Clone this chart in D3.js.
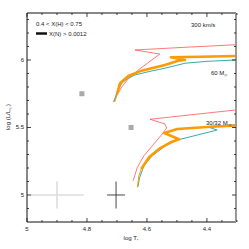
<!DOCTYPE html>
<html lang="en">
<head>
  <meta charset="UTF-8">
  <title>hrd</title>
  <script src="https://cdn.jsdelivr.net/npm/d3@7"></script>
  <style>
    body { margin: 0; background: #fff; }
    text { font-family: "Liberation Sans", Arial, sans-serif; font-size: 6px; fill: #222; }
  </style>
</head>
<body>
  <svg width="249" height="249"></svg>
  <script>
    // tracks as [log Teff, log L]
    var red60 = [[4.712, 5.69], [4.697, 5.75], [4.684, 5.80], [4.663, 5.859], [4.629, 5.926], [4.557, 6.044],
      [4.64, 6.074], [4.473, 6.094], [4.303, 6.113]]
    var teal60 = [[4.71, 5.69], [4.70, 5.763], [4.684, 5.827], [4.665, 5.862], [4.64, 5.889], [4.59, 5.916],
      [4.54, 5.939], [4.473, 5.976], [4.40, 5.99], [4.303, 6.0]]
    var orange60Thin = [[4.707, 5.69], [4.699, 5.753]]
    var orange60Thick = [[4.699, 5.753], [4.69, 5.827], [4.662, 5.881], [4.618, 5.921], [4.54, 5.963],
      [4.496, 5.995], [4.473, 6.0], [4.52, 6.02], [4.423, 6.024], [4.303, 6.03]]

    var red30 = [[4.646, 5.106], [4.632, 5.205], [4.61, 5.291], [4.582, 5.365], [4.554, 5.439], [4.534, 5.496],
      [4.54, 5.526], [4.59, 5.561], [4.303, 5.63]]
    var teal30 = [[4.63, 5.061], [4.625, 5.126], [4.61, 5.217], [4.582, 5.291], [4.538, 5.365], [4.499, 5.407],
      [4.366, 5.481], [4.40, 5.507], [4.303, 5.52]]
    var orange30Thin = [[4.632, 5.057], [4.627, 5.141], [4.619, 5.193]]
    var orange30Thick = [[4.619, 5.193], [4.593, 5.279], [4.56, 5.341], [4.521, 5.39], [4.493, 5.413],
      [4.542, 5.459], [4.499, 5.489], [4.399, 5.504], [4.303, 5.515]]

    // observed stars and error bars
    var stars = [[4.817, 5.75], [4.653, 5.5]]
    var errLight = { t: 4.9, l: 5.0, dt: 0.089, dl: 0.1 }
    var errDark = { t: 4.703, l: 5.0, dt: 0.03, dl: 0.1 }

    var xMajor = [5, 4.8, 4.6, 4.4]
    var yMajor = [5, 5.5, 6]
    var xLabels = ['5', '4.8', '4.6', '4.4']
    var yLabels = ['5', '5.5', '6']

    var svg = d3.select('svg')
    var x = d3.scaleLinear().domain([5, 4.303]).range([27, 236])
    var y = d3.scaleLinear().domain([4.8, 6.348]).range([222, 13])
    var line = d3.line().x(d => x(d[0])).y(d => y(d[1]))

    var plot = svg.append('g')
    plot.append('clipPath').attr('id', 'clip').append('rect')
      .attr('x', 27).attr('y', 13).attr('width', 209).attr('height', 209)
    var inner = plot.append('g').attr('clip-path', 'url(#clip)')

    // error crosses
    function cross(e, color, w) {
      inner.append('line').attr('x1', x(e.t - e.dt)).attr('x2', x(e.t + e.dt))
        .attr('y1', y(e.l)).attr('y2', y(e.l)).attr('stroke', color).attr('stroke-width', w)
      inner.append('line').attr('x1', x(e.t)).attr('x2', x(e.t))
        .attr('y1', y(e.l - e.dl)).attr('y2', y(e.l + e.dl)).attr('stroke', color).attr('stroke-width', w)
    }
    cross(errLight, '#dcdcdc', 1.6)
    cross(errDark, '#333', 0.9)

    inner.selectAll('.star').data(stars).enter().append('rect')
      .attr('x', d => x(d[0]) - 2.5).attr('y', d => y(d[1]) - 2.5)
      .attr('width', 5).attr('height', 5).attr('fill', '#aaa')

    var tracks = [
      [red60, '#ff5555', 0.8], [red30, '#ff5555', 0.8],
      [teal60, '#3aaaa5', 1], [teal30, '#3aaaa5', 1],
      [orange60Thin, '#ff9a00', 1], [orange30Thin, '#ff9a00', 1],
      [orange60Thick, '#ff9a00', 2.6], [orange30Thick, '#ff9a00', 2.6]
    ]
    tracks.forEach(t => {
      inner.append('path').attr('d', line(t[0])).attr('fill', 'none')
        .attr('stroke', t[1]).attr('stroke-width', t[2]).attr('stroke-linejoin', 'round')
    })

    // frame
    svg.append('path').attr('d', 'M236,13H27V222H236').attr('fill', 'none').attr('stroke', '#111').attr('stroke-width', 1)
    svg.append('line').attr('x1', 236).attr('x2', 236).attr('y1', 13).attr('y2', 222)
      .attr('stroke', '#999').attr('stroke-width', 2)

    // ticks on all sides
    var xMinor = d3.range(5, 4.3, -0.05).filter(v => !xMajor.some(m => Math.abs(m - v) < 1e-6))
    var yMinor = d3.range(4.9, 6.35, 0.1).filter(v => !yMajor.some(m => Math.abs(m - v) < 1e-6))
    var tk = svg.append('g').attr('stroke', '#111').attr('stroke-width', 0.8)
    function xt(v, len) {
      tk.append('line').attr('x1', x(v)).attr('x2', x(v)).attr('y1', 222).attr('y2', 222 - len)
      tk.append('line').attr('x1', x(v)).attr('x2', x(v)).attr('y1', 13).attr('y2', 13 + len)
    }
    function yt(v, len) {
      tk.append('line').attr('y1', y(v)).attr('y2', y(v)).attr('x1', 27).attr('x2', 27 + len)
      tk.append('line').attr('y1', y(v)).attr('y2', y(v)).attr('x1', 236).attr('x2', 236 - len)
    }
    xMajor.forEach(v => xt(v, 4))
    xMinor.forEach(v => xt(v, 2))
    yMajor.forEach(v => yt(v, 4))
    yMinor.forEach(v => yt(v, 2))

    svg.selectAll('.xl').data(xMajor).enter().append('text')
      .attr('x', d => x(d)).attr('y', 231).attr('text-anchor', 'middle').text((d, i) => xLabels[i])
    svg.selectAll('.yl').data(yMajor).enter().append('text')
      .attr('x', 24).attr('y', d => y(d) + 2).attr('text-anchor', 'end').text((d, i) => yLabels[i])

    var xlab = svg.append('text').attr('x', 131).attr('y', 240).attr('text-anchor', 'middle')
    xlab.append('tspan').text('log T')
    xlab.append('tspan').attr('dy', 1.5).attr('font-size', 4).text('*')

    var ylab = svg.append('text').attr('transform', 'translate(10,117) rotate(-90)').attr('text-anchor', 'middle')
    ylab.append('tspan').text('log (L/L')
    ylab.append('tspan').attr('dy', 1.5).attr('font-size', 4).text('\u2609')
    ylab.append('tspan').attr('dy', -1.5).text(')')

    // legend and annotations
    svg.append('text').attr('x', 36).attr('y', 26).text('0.4 < X(H) < 0.75')
    svg.append('line').attr('x1', 36).attr('x2', 47).attr('y1', 33.5).attr('y2', 33.5)
      .attr('stroke', '#111').attr('stroke-width', 2.5)
    svg.append('text').attr('x', 49).attr('y', 36).text('X(N) > 0.0012')
    svg.append('text').attr('x', 191).attr('y', 27).text('300 km/s')

    function massLabel(px, py, s) {
      var t = svg.append('text').attr('x', px).attr('y', py)
      t.append('tspan').text(s + ' M')
      t.append('tspan').attr('dy', 1.5).attr('font-size', 4).text('\u2609')
    }
    massLabel(211, 75, '60')
    massLabel(206, 125, '30/32')
  </script>
</body>
</html>
